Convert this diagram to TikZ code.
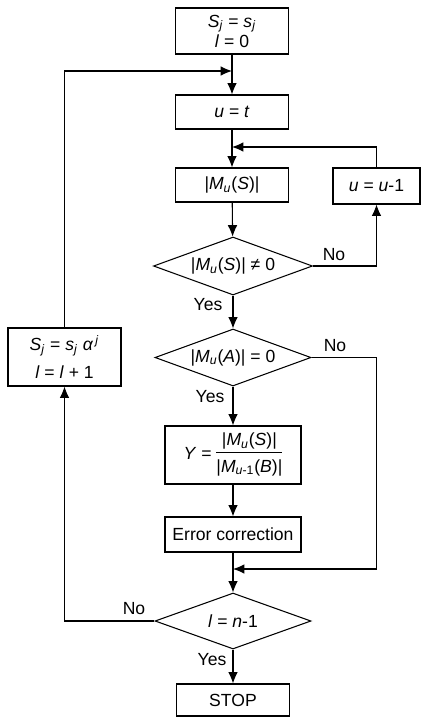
\documentclass[tikz,border=0pt]{standalone}
\usepackage{fontspec}
\setmainfont{Liberation Sans}
\usetikzlibrary{arrows.meta,shapes.geometric}
\tikzset{>={Latex[width=5.5pt,length=6.5pt]}}
\tikzset{
  procbox/.style={draw, semithick, align=center, inner sep=1pt},
  decision/.style={draw, semithick, diamond, aspect=2.75, inner sep=0pt},
  lbl/.style={inner sep=0pt},
}
\newcommand\sbi[1]{\textsubscript{\textit{#1}}}
\newcommand\PX{0.02cm}

\begin{document}
\begin{tikzpicture}[x=0.02cm, y=-0.02cm, semithick, font=\fontsize{10}{9.5}\selectfont]

  \useasboundingbox (0,0) rectangle (421,718);

  % main column
  \node[procbox, minimum width=113*\PX, minimum height=46*\PX] (init) at (232,31)
    {\textit{S}\sbi{j} = \textit{s}\sbi{j}\\ \textit{l} = 0};
  \node[procbox, minimum width=113*\PX, minimum height=34*\PX] (ut) at (232,112)
    {\textit{u} = \textit{t}};
  \node[procbox, minimum width=113*\PX, minimum height=34*\PX] (mus) at (232,185)
    {|\textit{M}\sbi{u}(\textit{S})|};
  \node[procbox, minimum width=87*\PX, minimum height=36*\PX] (udec) at (376.5,186)
    {\textit{u} = \textit{u}-1};
  \node[decision, minimum width=159*\PX, minimum height=58*\PX] (d1) at (233,266)
    {|\textit{M}\sbi{u}(\textit{S})| ≠ 0};
  \node[decision, minimum width=156*\PX, minimum height=57*\PX] (d2) at (233,357.5)
    {|\textit{M}\sbi{u}(\textit{A})| = 0};
  \node[procbox, minimum width=136*\PX, minimum height=58*\PX] (yq) at (233,455)
    {\textit{Y} = \begin{tabular}[c]{@{}c@{}}|\textit{M}\sbi{u}(\textit{S})|\\[1pt]\hline
     \rule{0pt}{11pt}|\textit{M}\textsubscript{\textit{u}-1}(\textit{B})|\end{tabular}};
  \node[procbox, minimum width=136*\PX, minimum height=35*\PX] (err) at (233,534.5)
    {Error correction};
  \node[decision, minimum width=156*\PX, minimum height=56*\PX] (d3) at (233,621)
    {\textit{l} = \textit{n}-1};
  \node[procbox, minimum width=113*\PX, minimum height=32*\PX] (stop) at (233,700)
    {STOP};

  % loop back
  \node[procbox, minimum width=113*\PX, minimum height=58*\PX] (upd) at (64.5,357)
    {\textit{S}\sbi{j} = \textit{s}\sbi{j} \textit{α}\textsuperscript{\,\textit{j}}\\[4.5pt] \textit{l} = \textit{l} + 1};

  \coordinate (j1) at (232,71);
  \coordinate (j2) at (232,147);
  \coordinate (j3) at (233,569);

  \draw[->] (init) -- (ut);
  \draw[->] (upd.north) |- (j1);
  \draw[->] (ut) -- (mus);
  \draw[->] (udec.north) |- (j2);
  \draw[->] (mus) -- (d1);
  \draw[->] (d1.east) -| (udec.south); % No
  \draw[->] (d1) -- (d2); % Yes
  \draw[->] (d2.east) -| (udec.center |- j3) -- (j3); % No
  \draw[->] (d2) -- (yq); % Yes
  \draw[->] (yq) -- (err);
  \draw[->] (err) -- (d3);
  \draw[->] (d3.west) -| (upd.south); % No
  \draw[->] (d3) -- (stop); % Yes

  \node[lbl] (no1) at (334,255) {No};
  \node[lbl] (yes1) at (208,305) {Yes};
  \node[lbl] (no2) at (335,346) {No};
  \node[lbl] (yes2) at (210,397) {Yes};
  \node[lbl] (no3) at (134,609) {No};
  \node[lbl] (yes3) at (212,660) {Yes};

\end{tikzpicture}
\end{document}
